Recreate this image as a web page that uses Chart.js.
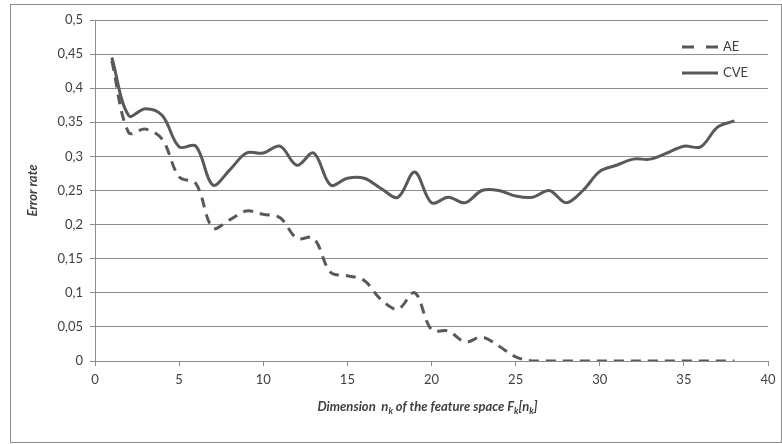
<!DOCTYPE html>
<html><head><meta charset="utf-8">
<script src="https://cdn.jsdelivr.net/npm/chart.js@4/dist/chart.umd.min.js"></script>
<style>html,body{margin:0;padding:0;background:#fff;}#wrap{width:782px;height:444px;}</style>
</head><body><div id="wrap"><canvas id="c" width="782" height="444"></canvas></div>
<script>
const dims = [1,2,3,4,5,6,7,8,9,10,11,12,13,14,15,16,17,18,19,20,21,22,23,24,25,26,27,28,29,30,31,32,33,34,35,36,37,38];
const aeValues = [0.44,0.335,0.34,0.325,0.27,0.26,0.195,0.207,0.22,0.215,0.21,0.18,0.18,0.13,0.125,0.118,0.09,0.076,0.1,0.046,0.044,0.028,0.035,0.022,0.006,0,0,0,0,0,0,0,0,0,0,0,0,0];
const cveValues = [0.445,0.36,0.37,0.36,0.314,0.315,0.258,0.28,0.305,0.305,0.315,0.287,0.305,0.258,0.268,0.268,0.253,0.24,0.277,0.232,0.24,0.232,0.25,0.25,0.242,0.24,0.25,0.232,0.25,0.278,0.287,0.296,0.296,0.305,0.315,0.314,0.343,0.352];
const seriesNames = ['AE','CVE'];
const yTickLabels = ['0','0,05','0,1','0,15','0,2','0,25','0,3','0,35','0,4','0,45','0,5'];
const yTitle = 'Error rate';
const xTitleParts = [['Dimension  n',false],['k',true],[' of the feature space F',false],['k',true],['[n',false],['k',true],[']',false]];

const lineColor = '#595959';
const gridColor = '#8c8c8c';
const textColor = '#404040';
const FONT = 'Lato, "Liberation Sans", sans-serif';

const framePlugin = {
  id: 'frame',
  beforeDraw(chart) {
    const ctx = chart.ctx;
    ctx.save();
    ctx.strokeStyle = gridColor;
    ctx.lineWidth = 1;
    ctx.strokeRect(10.5, 4.5, 771, 438);
    ctx.restore();
  },
  afterDraw(chart) {
    const ctx = chart.ctx;
    const area = chart.chartArea;
    ctx.save();
    const mainFont = 'italic bold 13px ' + FONT;
    const subFont = 'italic bold 9px ' + FONT;
    let total = 0;
    xTitleParts.forEach(([t, sub]) => { ctx.font = sub ? subFont : mainFont; total += ctx.measureText(t).width; });
    let x = (area.left + area.right) / 2 - total / 2 - 4;
    const y = 407;
    ctx.fillStyle = textColor;
    ctx.textBaseline = 'middle';
    ctx.textAlign = 'left';
    xTitleParts.forEach(([t, sub]) => {
      ctx.font = sub ? subFont : mainFont;
      ctx.fillText(t, x, sub ? y + 4 : y);
      x += ctx.measureText(t).width;
    });
    const items = chart.data.datasets;
    const lx0 = 682, lx1 = 718, ly = [47, 73];
    items.forEach((ds, i) => {
      ctx.beginPath();
      ctx.strokeStyle = ds.borderColor;
      ctx.lineWidth = 3;
      ctx.setLineDash(ds.borderDash ? [12, 12] : []);
      ctx.moveTo(lx0, ly[i]);
      ctx.lineTo(lx1, ly[i]);
      ctx.stroke();
      ctx.setLineDash([]);
      ctx.font = '13px ' + FONT;
      ctx.fillStyle = textColor;
      ctx.fillText(ds.label, 723, ly[i]);
    });
    ctx.restore();
  }
};

new Chart(document.getElementById('c'), {
  type: 'line',
  data: {
    datasets: [
      { label: seriesNames[0], data: dims.map((d, i) => ({x: d, y: aeValues[i]})), borderColor: lineColor, borderWidth: 3, borderDash: [10, 7], pointRadius: 0, tension: 0.35, fill: false },
      { label: seriesNames[1], data: dims.map((d, i) => ({x: d, y: cveValues[i]})), borderColor: lineColor, borderWidth: 3, pointRadius: 0, tension: 0.35, fill: false }
    ]
  },
  options: {
    responsive: false,
    animation: false,
    devicePixelRatio: 1,
    layout: { padding: { left: 0, top: 20, right: 14, bottom: 0 } },
    plugins: { legend: { display: false }, tooltip: { enabled: false } },
    scales: {
      x: {
        type: 'linear', min: 0, max: 40,
        ticks: { stepSize: 5, color: textColor, font: { family: FONT, size: 13 }, padding: 6, maxRotation: 0 },
        grid: { drawOnChartArea: false, drawTicks: true, tickLength: 5, color: gridColor },
        border: { display: true, color: gridColor, width: 1 },
        afterFit(s) { s.height = 83; }
      },
      y: {
        min: 0, max: 0.5,
        ticks: { stepSize: 0.05, color: textColor, font: { family: FONT, size: 13 }, padding: 7,
          callback: (v, i) => yTickLabels[i] },
        grid: { color: gridColor, drawTicks: true, tickLength: 5 },
        border: { display: true, color: gridColor, width: 1 },
        title: { display: true, text: yTitle, color: textColor, font: { family: FONT, size: 13, style: 'italic', weight: 'bold' }, padding: { top: 25, bottom: 0 } },
        afterFit(s) { s.width = 95; }
      }
    }
  },
  plugins: [framePlugin]
});
</script>
</body></html>
